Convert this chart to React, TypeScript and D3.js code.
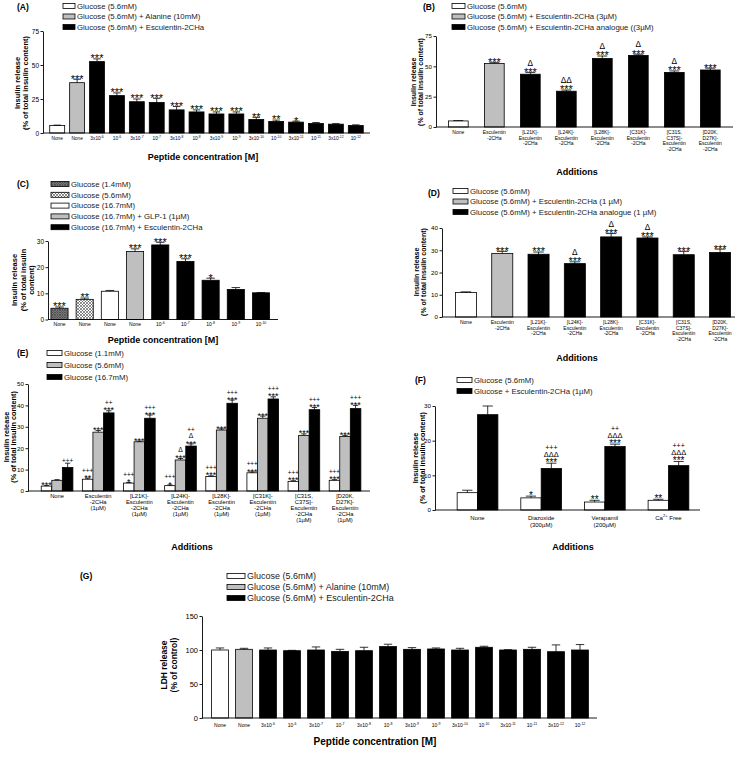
import React, { useEffect, useRef } from 'react';
import * as d3 from 'd3';

const FONT = '"Liberation Sans", Arial, Helvetica, sans-serif';
const W = 750;
const H = 757;

const FILLS: Record<string, string> = {
  white: '#ffffff',
  gray: '#bfbfbf',
  black: '#000000',
  dots: 'url(#hatchDots)',
  cross: 'url(#hatchCross)',
};

// ---------- Panel A : insulin release, concentration series ----------
const aLabels = ['None', 'None', '3x10^-6', '10^-6', '3x10^-7', '10^-7', '3x10^-8', '10^-8', '3x10^-9', '10^-9', '3x10^-10', '10^-10', '3x10^-11', '10^-11', '3x10^-12', '10^-12'];
const aFills = ['white', 'gray', 'black', 'black', 'black', 'black', 'black', 'black', 'black', 'black', 'black', 'black', 'black', 'black', 'black', 'black'];
const aValues = [5.5, 37, 52.5, 27.5, 23, 22.5, 17, 15.5, 14, 14, 10, 8.5, 8, 7, 6.5, 5.5];
const aErrors = [0.3, 2.5, 2, 2, 2, 3, 2.5, 1.5, 1.5, 1.5, 1.5, 1, 0.7, 0.7, 0.4, 0.5];
const aMarks = ['', '***', '***', '***', '***', '***', '***', '***', '***', '***', '**', '**', '*', '', '', ''];
const aLegend = [
  ['white', 'Glucose (5.6mM)'],
  ['gray', 'Glucose (5.6mM) + Alanine (10mM)'],
  ['black', 'Glucose (5.6mM) + Esculentin-2CHa'],
];

// ---------- Analogue labels (B, D) ----------
const analogueLabels = ['None', 'Esculentin\n-2CHa', '[L21K]-\nEsculentin\n-2CHa', '[L24K]-\nEsculentin\n-2CHa', '[L28K]-\nEsculentin\n-2CHa', '[C31K]-\nEsculentin\n-2CHa', '[C31S,\nC37S]-\nEsculentin\n-2CHa', '[D20K,\nD27K]-\nEsculentin\n-2CHa'];
const analogueFills = ['white', 'gray', 'black', 'black', 'black', 'black', 'black', 'black'];

// ---------- Panel B ----------
const bValues = [5, 52.3, 43.5, 29.5, 56.5, 59, 45, 47];
const bErrors = [0.3, 1, 1.5, 1, 2, 1, 1.2, 1.5];
const bMarks = ['', '***', 'Δ\n***', 'ΔΔ\n***', 'Δ\n***', 'Δ\n***', 'Δ\n***', '***'];
const bLegend = [
  ['white', 'Glucose (5.6mM)'],
  ['gray', 'Glucose (5.6mM) + Esculentin-2CHa (3µM)'],
  ['black', 'Glucose (5.6mM) + Esculentin-2CHa analogue ((3µM)'],
];

// ---------- Panel C ----------
const cLabels = ['None', 'None', 'None', 'None', '10^-6', '10^-7', '10^-8', '10^-9', '10^-10'];
const cFills = ['dots', 'cross', 'white', 'gray', 'black', 'black', 'black', 'black', 'black'];
const cValues = [4.3, 7.7, 10.8, 26, 28.5, 22.2, 15, 11.5, 10.2];
const cErrors = [0.5, 0.5, 0.3, 1, 1, 1, 0.8, 0.7, 0.1];
const cMarks = ['***', '**', '', '***', '***', '***', '*', '', ''];
const cLegend = [
  ['dots', 'Glucose (1.4mM)'],
  ['cross', 'Glucose (5.6mM)'],
  ['white', 'Glucose (16.7mM)'],
  ['gray', 'Glucose (16.7mM) + GLP-1 (1µM)'],
  ['black', 'Glucose (16.7mM) + Esculentin-2CHa'],
];

// ---------- Panel D ----------
const dValues = [11, 28.5, 28.2, 24, 36, 35.5, 28, 29];
const dErrors = [0.3, 1, 1, 0.8, 1.5, 0.5, 1.5, 1.5];
const dMarks = ['', '***', '***', 'Δ\n***', 'Δ\n***', 'Δ\n***', '***', '***'];
const dLegend = [
  ['white', 'Glucose (5.6mM)'],
  ['gray', 'Glucose (5.6mM) + Esculentin-2CHa (1 µM)'],
  ['black', 'Glucose (5.6mM) + Esculentin-2CHa analogue (1 µM)'],
];

// ---------- Panel E ----------
const eCats = ['None', 'Esculentin\n-2CHa\n(1µM)', '[L21K]-\nEsculentin\n-2CHa\n(1µM)', '[L24K]-\nEsculentin\n-2CHa\n(1µM)', '[L28K]-\nEsculentin\n-2CHa\n(1µM)', '[C31K]-\nEsculentin\n-2CHa\n(1µM)', '[C31S,\nC37S]-\nEsculentin\n-2CHa\n(1µM)', '[D20K,\nD27K]-\nEsculentin\n-2CHa\n(1µM)'];
const eSeries = ['Glucose (1.1mM)', 'Glucose (5.6mM)', 'Glucose (16.7mM)'];
const eFills = ['white', 'gray', 'black'];
const eValues = [
  [2.3, 5.5, 3.7, 2.5, 6.8, 8.5, 4.5, 5],
  [5, 27.5, 23, 14.5, 28.5, 34, 26, 25.5],
  [11, 36.5, 34, 21, 41, 43, 38, 38.5],
];
const eErrors = [
  [0.3, 0.5, 0.3, 0.3, 0.3, 0.4, 0.3, 0.3],
  [0.3, 0.8, 0.3, 0.7, 0.5, 1, 0.7, 0.5],
  [2, 1, 1.5, 1, 1.5, 1, 1, 1.5],
];
const eMarks = [
  ['***', '+++\n**', '+++\n*', '+++\n*', '+++\n***', '+++\n***', '+++\n***', '+++\n***'],
  ['', '***', '***', 'Δ\n***', '***', '***', '***', '***'],
  ['+++', '++\n***', '+++\n***', '++\nΔ\n***', '+++\n***', '+++\n***', '+++\n***', '+++\n***'],
];

// ---------- Panel F ----------
const fCats = ['None', 'Diazoxide\n(300µM)', 'Verapamil\n(200µM)', 'Ca^2+ Free'];
const fSeries = ['Glucose (5.6mM)', 'Glucose + Esculentin-2CHa (1µM)'];
const fFills = ['white', 'black'];
const fValues = [
  [5, 3.5, 2.3, 2.8],
  [27.5, 12, 18.3, 12.8],
];
const fErrors = [
  [0.7, 0.5, 0.5, 0.3],
  [2.5, 1.5, 0.7, 1.2],
];
const fMarks = [
  ['', '*', '**', '**'],
  ['', '+++\nΔΔΔ\n***', '++\nΔΔΔ\n***', '+++\nΔΔΔ\n***'],
];

// ---------- Panel G : LDH release ----------
const gValues = [100, 101, 100, 99, 100, 98, 99, 105, 101, 101.5, 100, 104, 100, 101, 97.5, 100];
const gErrors = [3, 1.5, 3, 0.5, 4.5, 3, 5, 3.5, 2.5, 1.5, 2.5, 1.5, 0.5, 3, 10, 8];

type G = d3.Selection<SVGGElement, unknown, null, undefined>;

function richText(sel: any, str: string, size: number) {
  const m = str.match(/^(.*?)\^(\S+)(.*)$/);
  if (!m) {
    sel.text(str);
    return;
  }
  sel.append('tspan').text(m[1]);
  sel.append('tspan').attr('dy', -size * 0.45).attr('font-size', size * 0.7).text(m[2]);
  if (m[3]) sel.append('tspan').attr('dy', size * 0.45).text(m[3]);
}

function multiLine(g: G, x: number, y: number, str: string, size: number, lh: number) {
  const t = g.append('text')
    .attr('x', x).attr('y', y)
    .attr('text-anchor', 'middle')
    .attr('font-size', size);
  str.split('\n').forEach((line, i) => {
    const ts = t.append('tspan').attr('x', x).attr('dy', i === 0 ? 0 : lh);
    richText(ts, line, size);
  });
}

function drawLetter(g: G, txt: string, x: number, y: number) {
  g.append('text').attr('x', x).attr('y', y).attr('font-size', 8.5).attr('font-weight', 'bold').text(txt);
}

function drawLegend(g: G, items: string[][], x: number, y0: number, dy: number, boxW: number, fs: number) {
  items.forEach(([fill, label], i) => {
    const y = y0 + i * dy;
    g.append('rect')
      .attr('x', x).attr('y', y - 2.5)
      .attr('width', boxW).attr('height', 5)
      .attr('fill', FILLS[fill]).attr('stroke', '#000').attr('stroke-width', 0.8);
    g.append('text')
      .attr('x', x + boxW + 2).attr('y', y + fs * 0.36)
      .attr('font-size', fs).attr('fill', '#222')
      .text(label);
  });
}

function drawYAxis(g: G, x: number, top: number, bottom: number, max: number, ticks: number[], fs: number) {
  const y = d3.scaleLinear().domain([0, max]).range([bottom, top]);
  const ax = g.append('g')
    .attr('transform', `translate(${x},0)`)
    .call(d3.axisLeft(y).tickValues(ticks).tickSize(2.5).tickSizeOuter(0).tickPadding(1.5).tickFormat(d3.format('d')));
  ax.attr('font-size', fs).attr('font-family', FONT);
  ax.selectAll('path,line').attr('stroke', '#000').attr('stroke-width', 0.9);
  return y;
}

function drawXLine(g: G, x0: number, x1: number, y: number) {
  g.append('line').attr('x1', x0).attr('x2', x1).attr('y1', y).attr('y2', y)
    .attr('stroke', '#000').attr('stroke-width', 0.9);
}

// significance marks, stacked upward from the top of the error bar (one text, one tspan per line)
function drawMarks(g: G, cx: number, topY: number, str: string, fs: number) {
  if (!str) return;
  const t = g.append('text').attr('text-anchor', 'middle').attr('font-size', fs);
  let cur = topY - 1;
  const rows: { line: string; size: number; base: number }[] = [];
  str.split('\n').reverse().forEach((line) => {
    let size = fs;
    let base: number;
    let top: number;
    if (line.includes('*')) {
      base = cur + 0.4 * fs;
      top = base - 0.78 * fs;
    } else if (line.includes('Δ')) {
      size = fs * 0.75;
      base = cur;
      top = base - 0.75 * size;
    } else {
      size = fs * 0.7;
      base = cur + 0.08 * size;
      top = base - 0.66 * size;
    }
    rows.push({ line, size, base });
    cur = top - 1.6;
  });
  rows.reverse().forEach((r) => {
    t.append('tspan').attr('x', cx).attr('y', r.base).attr('font-size', r.size).text(r.line);
  });
}

function drawBar(g: G, y: d3.ScaleLinear<number, number>, x: number, w: number, v: number, e: number, fill: string, mark: string, markFs: number) {
  g.append('rect')
    .attr('x', x).attr('y', y(v))
    .attr('width', w).attr('height', y(0) - y(v))
    .attr('fill', FILLS[fill]).attr('stroke', '#000').attr('stroke-width', 0.8);
  const cx = x + w / 2;
  const capW = w * 0.5;
  g.append('line').attr('x1', cx).attr('x2', cx).attr('y1', y(v)).attr('y2', y(v + e))
    .attr('stroke', '#000').attr('stroke-width', 0.8);
  g.append('line').attr('x1', cx - capW / 2).attr('x2', cx + capW / 2).attr('y1', y(v + e)).attr('y2', y(v + e))
    .attr('stroke', '#000').attr('stroke-width', 0.8);
  drawMarks(g, cx, y(v + e), mark, markFs);
}

function yLabel(g: G, lines: string[], xs: number[], cy: number, fs: number) {
  lines.forEach((l, i) => {
    g.append('text')
      .attr('transform', `translate(${xs[i]},${cy}) rotate(-90)`)
      .attr('text-anchor', 'middle')
      .attr('font-size', fs).attr('font-weight', 'bold')
      .text(l);
  });
}

function xTitle(g: G, txt: string, x: number, y: number, fs: number) {
  g.append('text').attr('x', x).attr('y', y).attr('text-anchor', 'middle')
    .attr('font-size', fs).attr('font-weight', 'bold').text(txt);
}

interface SimpleOpts {
  labels: string[]; fills: string[]; values: number[]; errors: number[]; marks: string[];
  axisX: number; axisEnd: number; top: number; bottom: number; max: number; ticks: number[]; tickFs: number;
  range: [number, number]; pad: number; catY: number; catFs: number; catLh: number; markFs: number;
}

function simplePanel(g: G, o: SimpleOpts) {
  const y = drawYAxis(g, o.axisX, o.top, o.bottom, o.max, o.ticks, o.tickFs);
  const idx = o.values.map((_, i) => String(i));
  const x = d3.scaleBand().domain(idx).range(o.range).paddingInner(o.pad).paddingOuter(o.pad / 2);
  o.values.forEach((v, i) => {
    drawBar(g, y, x(String(i))!, x.bandwidth(), v, o.errors[i], o.fills[i], o.marks[i] || '', o.markFs);
    multiLine(g, x(String(i))! + x.bandwidth() / 2, o.catY, o.labels[i], o.catFs, o.catLh);
  });
  drawXLine(g, o.axisX, o.axisEnd, y(0));
}

interface GroupOpts {
  cats: string[]; fills: string[]; values: number[][]; errors: number[][]; marks: string[][];
  axisX: number; axisEnd: number; top: number; bottom: number; max: number; ticks: number[]; tickFs: number;
  range: [number, number]; pad: number; catY: number; catFs: number; catLh: number; markFs: number;
}

function groupPanel(g: G, o: GroupOpts) {
  const y = drawYAxis(g, o.axisX, o.top, o.bottom, o.max, o.ticks, o.tickFs);
  const x0 = d3.scaleBand().domain(o.cats).range(o.range).paddingInner(o.pad).paddingOuter(o.pad / 2);
  const x1 = d3.scaleBand().domain(o.fills.map((_, i) => String(i))).range([0, x0.bandwidth()]).padding(0);
  o.cats.forEach((c, ci) => {
    o.fills.forEach((f, si) => {
      drawBar(g, y, x0(c)! + x1(String(si))!, x1.bandwidth(), o.values[si][ci], o.errors[si][ci], f, o.marks[si][ci], o.markFs);
    });
    multiLine(g, x0(c)! + x0.bandwidth() / 2, o.catY, c, o.catFs, o.catLh);
  });
  drawXLine(g, o.axisX, o.axisEnd, y(0));
}

const App = () => {
  const svgRef = useRef<SVGSVGElement | null>(null);

  useEffect(() => {
    document.body.style.margin = '0';
    if (!svgRef.current) return;
    const svg = d3.select(svgRef.current);
    svg.selectAll('*').remove();

    // hatch patterns for panel C
    const defs = svg.append('defs');
    const p1 = defs.append('pattern').attr('id', 'hatchDots').attr('patternUnits', 'userSpaceOnUse').attr('width', 2.5).attr('height', 2.5);
    p1.append('rect').attr('width', 2.5).attr('height', 2.5).attr('fill', '#8a8a8a');
    p1.append('path').attr('d', 'M0,0 L2.5,2.5 M2.5,0 L0,2.5').attr('stroke', '#333').attr('stroke-width', 0.6);
    const p2 = defs.append('pattern').attr('id', 'hatchCross').attr('patternUnits', 'userSpaceOnUse').attr('width', 3).attr('height', 3);
    p2.append('rect').attr('width', 3).attr('height', 3).attr('fill', '#ffffff');
    p2.append('path').attr('d', 'M0,0 L3,3 M3,0 L0,3').attr('stroke', '#444').attr('stroke-width', 0.6);

    const root = svg.append('g').attr('font-family', FONT).attr('fill', '#000') as unknown as G;

    // ---------- A ----------
    drawLetter(root, '(A)', 17, 10);
    drawLegend(root, aLegend, 63, 6, 10.5, 12, 7.8);
    simplePanel(root, {
      labels: aLabels, fills: aFills, values: aValues, errors: aErrors, marks: aMarks,
      axisX: 43, axisEnd: 370, top: 31, bottom: 133, max: 75, ticks: [0, 25, 50, 75], tickFs: 6.5,
      range: [47.25, 365.75], pad: 0.25, catY: 140, catFs: 4.8, catLh: 5, markFs: 11,
    });
    yLabel(root, ['Insulin release', '(% of total insulin content)'], [19.5, 27.5], 83, 7.5);
    xTitle(root, 'Peptide concentration [M]', 203, 160, 9);

    // ---------- B ----------
    drawLetter(root, '(B)', 423, 10);
    drawLegend(root, bLegend, 452, 6, 10.5, 13, 7.8);
    simplePanel(root, {
      labels: analogueLabels, fills: analogueFills, values: bValues, errors: bErrors, marks: bMarks,
      axisX: 436, axisEnd: 733, top: 36, bottom: 127, max: 75, ticks: [0, 25, 50, 75], tickFs: 6.2,
      range: [440.3, 728.3], pad: 0.45, catY: 134, catFs: 5, catLh: 5.5, markFs: 11,
    });
    yLabel(root, ['Insulin release', '(% of total insulin content)'], [415.5, 422.5], 82, 7);
    xTitle(root, 'Additions', 577, 175, 9);

    // ---------- C ----------
    drawLetter(root, '(C)', 17, 187);
    drawLegend(root, cLegend, 51, 184, 10.8, 18, 7.8);
    simplePanel(root, {
      labels: cLabels, fills: cFills, values: cValues, errors: cErrors, marks: cMarks,
      axisX: 48, axisEnd: 278, top: 241, bottom: 319.5, max: 30, ticks: [0, 10, 20, 30], tickFs: 6.5,
      range: [46.9, 273.6], pad: 0.32, catY: 326, catFs: 5, catLh: 5, markFs: 11,
    });
    yLabel(root, ['Insulin release', '(% of total insulin', 'content)'], [17, 26, 34], 280, 7.5);
    xTitle(root, 'Peptide concentration [M]', 163, 343, 9);

    // ---------- D ----------
    drawLetter(root, '(D)', 428, 196);
    drawLegend(root, dLegend, 453, 191, 10.5, 15, 7.8);
    simplePanel(root, {
      labels: analogueLabels, fills: analogueFills, values: dValues, errors: dErrors, marks: dMarks,
      axisX: 442, axisEnd: 735, top: 228, bottom: 317, max: 40, ticks: [0, 10, 20, 30, 40], tickFs: 6.2,
      range: [447.8, 738.2], pad: 0.42, catY: 324, catFs: 5, catLh: 5.5, markFs: 11,
    });
    yLabel(root, ['Insulin release', '(% of total insulin content)'], [419, 426], 272, 7);
    xTitle(root, 'Additions', 577, 361, 9);

    // ---------- E ----------
    drawLetter(root, '(E)', 17, 356);
    drawLegend(root, eSeries.map((s, i) => [eFills[i], s]), 47, 353, 12, 15, 7.8);
    groupPanel(root, {
      cats: eCats, fills: eFills, values: eValues, errors: eErrors, marks: eMarks,
      axisX: 28, axisEnd: 370, top: 384, bottom: 491, max: 50, ticks: [0, 10, 20, 30, 40, 50], tickFs: 6.2,
      range: [36.5, 365.6], pad: 0.23, catY: 498, catFs: 5.8, catLh: 6, markFs: 9,
    });
    yLabel(root, ['Insulin release', '(% of total insulin content)'], [8.5, 16], 437, 7.3);
    xTitle(root, 'Additions', 192, 550, 9);

    // ---------- F ----------
    drawLetter(root, '(F)', 415, 383);
    drawLegend(root, fSeries.map((s, i) => [fFills[i], s]), 457, 380, 11, 15, 7.8);
    groupPanel(root, {
      cats: fCats, fills: fFills, values: fValues, errors: fErrors, marks: fMarks,
      axisX: 435, axisEnd: 700, top: 406, bottom: 510, max: 30, ticks: [0, 10, 20, 30], tickFs: 6.2,
      range: [445.7, 700.3], pad: 0.36, catY: 520, catFs: 6, catLh: 6.7, markFs: 10,
    });
    yLabel(root, ['Insulin release', '(% of total insulin content)'], [417.5, 425], 458, 7.3);
    xTitle(root, 'Additions', 573, 550, 9);

    // ---------- G ----------
    drawLetter(root, '(G)', 80, 579);
    drawLegend(root, aLegend, 227, 576, 11, 18, 9);
    simplePanel(root, {
      labels: aLabels, fills: aFills, values: gValues, errors: gErrors, marks: [],
      axisX: 202, axisEnd: 597, top: 616, bottom: 718, max: 150, ticks: [0, 50, 100, 150], tickFs: 7.5,
      range: [208, 592], pad: 0.3, catY: 727, catFs: 5, catLh: 5, markFs: 10,
    });
    yLabel(root, ['LDH release', '(% of control)'], [166.5, 176.5], 665, 8.5);
    xTitle(root, 'Peptide concentration [M]', 375, 745, 10);
  }, []);

  return (
    <div style={{ width: W, height: H, background: '#fff' }}>
      <svg ref={svgRef} width={W} height={H} style={{ display: 'block' }} />
    </div>
  );
};

export default App;
